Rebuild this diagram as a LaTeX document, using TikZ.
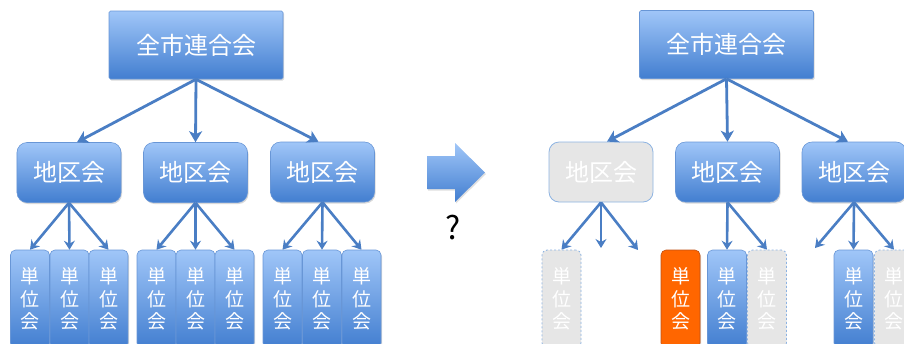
\documentclass[tikz,border=0pt]{standalone}
\usepackage{fontspec}
\newfontfamily\jp{Noto Sans CJK JP}
\usetikzlibrary{shadows,arrows.meta}
\definecolor{btop}{RGB}{160,198,248}
\definecolor{bbot}{RGB}{66,126,208}
\definecolor{bline}{RGB}{104,150,214}
\definecolor{arr}{RGB}{74,126,196}
\definecolor{org}{RGB}{255,102,0}
\definecolor{orgline}{RGB}{190,80,20}
\definecolor{gfill}{RGB}{230,230,230}
\definecolor{gline}{RGB}{141,179,226}
\tikzset{
  shd/.style={drop shadow={shadow xshift=1bp, shadow yshift=-1.5bp, opacity=0.3}},
  bluefill/.style={top color=btop, bottom color=bbot, draw=bline, line width=0.6bp, text=white, shd},
  topbox/.style={bluefill, minimum width=174bp, minimum height=68bp, rounded corners=1.5bp,
    font=\jp\fontsize{24bp}{28bp}\selectfont},
  distshape/.style={minimum width=104bp, minimum height=60bp, rounded corners=10bp,
    font=\jp\fontsize{24bp}{28bp}\selectfont},
  distbox/.style={distshape, bluefill},
  greydist/.style={distshape, fill=gfill, draw=gline, line width=0.8bp, text=white},
  unitshape/.style={minimum width=39bp, minimum height=98bp, rounded corners=5bp, align=center,
    inner sep=0pt, font=\jp\fontsize{19bp}{22.5bp}\selectfont},
  unitbox/.style={unitshape, bluefill},
  orgunit/.style={unitshape, fill=org, draw=orgline, line width=0.6bp, text=white, shd},
  greyunit/.style={unitshape, fill=gfill, draw=gline, line width=0.8bp, dash pattern=on 2bp off 2bp, text=white},
  toparrow/.style={draw=arr, line width=2.8bp, -{Stealth[length=11bp, width=13bp, inset=3bp]}},
  lowarrow/.style={draw=arr, line width=2.6bp, -{Stealth[length=9bp, width=11bp, inset=3bp]}},
}
\begin{document}
\begin{tikzpicture}[x=1bp, y=-1bp]
\useasboundingbox (0,0) rectangle (904,343);
% ---------- left tree ----------
\node[topbox] (t1) at (196,45) {全市連合会};
\node[distbox] (d1) at (69,172.5) {地区会};
\node[distbox] (d2) at (195.5,172.5) {地区会};
\node[distbox] (d3) at (322.5,172) {地区会};
\foreach \n/\x in {11/30,12/69.5,13/108.5,21/156.5,22/195.5,23/234.5,31/282.5,32/322,33/361.5}{
  \node[unitbox] (u\n) at (\x,299) {単\\位\\会};
}
\draw[toparrow] (t1.south) -- ([xshift=8bp]d1.north);
\draw[toparrow] (t1.south) -- (d2.north);
\draw[toparrow] (t1.south) -- ([xshift=-4bp]d3.north);
\foreach \d/\a/\b/\c in {d1/u11/u12/u13, d2/u21/u22/u23, d3/u31/u32/u33}{
  \draw[lowarrow] (\d.south) -- (\a.north);
  \draw[lowarrow] (\d.south) -- (\b.north);
  \draw[lowarrow] (\d.south) -- (\c.north);
}
% ---------- block arrow and question mark ----------
\shade[top color=btop, bottom color=bbot, drop shadow={shadow xshift=1bp, shadow yshift=-1.5bp, opacity=0.25}]
  (427,156) -- (455,156) -- (455,143) -- (485,172.5) -- (455,202) -- (455,189) -- (427,189) -- cycle;
\node[font=\jp\fontsize{32bp}{36bp}\selectfont, text=black] (q) at (453,228) {?};
% ---------- right tree ----------
\node[topbox] (t2) at (726.5,44.5) {全市連合会};
\node[greydist] (e1) at (601,172) {地区会};
\node[distbox] (e2) at (727.5,172) {地区会};
\node[distbox] (e3) at (854,172) {地区会};
\node[greyunit] (v1) at (561.5,299) {単\\位\\会};
\node[orgunit] (v2) at (680.5,299) {単\\位\\会};
\node[unitbox] (v3) at (727,299) {単\\位\\会};
\node[greyunit] (v4) at (767,299) {単\\位\\会};
\node[unitbox] (v5) at (853.5,299) {単\\位\\会};
\node[greyunit] (v6) at (894,299) {単\\位\\会};
\coordinate (c1) at (601,248);
\coordinate (c2) at (638,250);
\coordinate (c3) at (815,248);
\draw[toparrow] (t2.south) -- ([xshift=6bp]e1.north);
\draw[toparrow] (t2.south) -- (e2.north);
\draw[toparrow] (t2.south) -- ([xshift=-6bp]e3.north);
\draw[lowarrow] (e1.south) -- (v1.north);
\draw[lowarrow] (e1.south) -- (c1);
\draw[lowarrow] (e1.south) -- (c2);
\draw[lowarrow] (e2.south) -- (v3.north);
\draw[lowarrow] (e2.south) -- (v4.north);
\draw[lowarrow] (e3.south) -- (c3);
\draw[lowarrow] (e3.south) -- (v5.north);
\draw[lowarrow] (e3.south) -- (v6.north);
\end{tikzpicture}
\end{document}
